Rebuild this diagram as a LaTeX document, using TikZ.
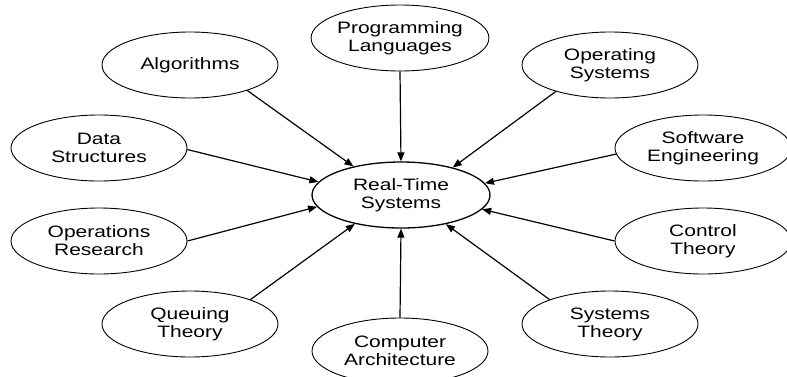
\documentclass[tikz,border=0pt]{standalone}
\usepackage{fontspec}
\setmainfont{Liberation Sans}[FakeStretch=1.27]
\usetikzlibrary{shapes.geometric,arrows.meta}
\tikzset{
  topic/.style={ellipse, draw, line width=0.9pt, minimum width=176pt, minimum height=66pt,
    inner sep=0pt, align=center, font=\fontsize{16.5}{18}\selectfont},
  hub/.style={topic, line width=1.3pt, minimum width=178pt},
  feed/.style={line width=1.2pt, -{Triangle[length=9pt,width=7pt]}}
}
\begin{document}
\begin{tikzpicture}[x=1pt,y=-1pt]
  \useasboundingbox (0,0) rectangle (787,376);
  \node[hub]   (rt) at (401,195) {Real-Time\\Systems};
  \node[topic] (pl) at (400,38)  {Programming\\Languages};
  \node[topic] (alg) at (190,65) {Algorithms};
  \node[topic] (os) at (610,65)  {Operating\\Systems};
  \node[topic] (ds) at (99,148)  {Data\\Structures};
  \node[topic] (se) at (703,148) {Software\\Engineering};
  \node[topic] (or) at (99,241)  {Operations\\Research};
  \node[topic] (ct) at (703,241) {Control\\Theory};
  \node[topic] (qt) at (190,324) {Queuing\\Theory};
  \node[topic] (st) at (610,324) {Systems\\Theory};
  \node[topic] (ca) at (400,351) {Computer\\Architecture};

  \draw[feed] (pl.270)  -- (rt.90);
  \draw[feed] (alg.-24) -- (rt.149);
  \draw[feed] (os.206)  -- (rt.28);
  \draw[feed] (ds.-1)   -- (rt.171);
  \draw[feed] (se.184)  -- (rt.8);
  \draw[feed] (or.0)    -- (rt.188);
  \draw[feed] (ct.180)  -- (rt.-10);
  \draw[feed] (qt.22)   -- (rt.212);
  \draw[feed] (st.158)  -- (rt.-33);
  \draw[feed] (ca.90)   -- (rt.270);
\end{tikzpicture}
\end{document}
